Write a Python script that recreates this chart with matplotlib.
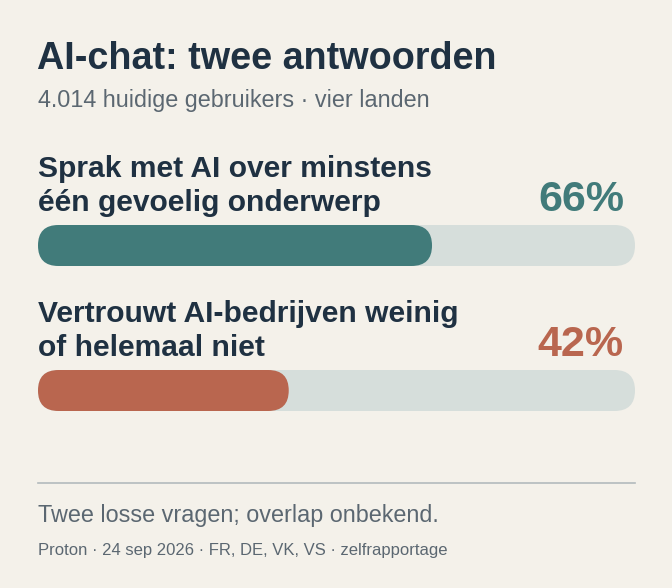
import matplotlib
matplotlib.use("Agg")
import matplotlib.pyplot as plt
from matplotlib.patches import FancyBboxPatch

plt.rcParams['font.family'] = ['Liberation Sans', 'DejaVu Sans']

title = "AI-chat: twee antwoorden"
subtitle = "4.014 huidige gebruikers · vier landen"
labels = ["Sprak met AI over minstens\néén gevoelig onderwerp",
          "Vertrouwt AI-bedrijven weinig\nof helemaal niet"]
values = [66, 42]
colors = ["#417b7a", "#b9664f"]
note = "Twee losse vragen; overlap onbekend."
source = "Proton · 24 sep 2026 · FR, DE, VK, VS · zelfrapportage"

W, H = 672, 588
bg = "#f4f1ea"
ink = "#1f3142"
grey = "#5b6771"
track = "#d6dedb"

fig = plt.figure(figsize=(W / 100, H / 100), dpi=100, facecolor=bg)


def px(x, y):
    # pixel position (from top-left) to figure fraction
    return x / W, 1 - y / H


left, right = 38, 635
bar_h = 41
fig.text(*px(37, 69), title, fontsize=27.2, fontweight='bold', color=ink, va='baseline')
fig.text(*px(38, 107), subtitle, fontsize=16.8, color=grey, va='baseline')

step = 145
for i, (lab, val, col) in enumerate(zip(labels, values, colors)):
    off = i * step
    for j, line in enumerate(lab.split("\n")):
        fig.text(*px(38, 177 + off + j * 34), line, fontsize=21.6, fontweight='bold',
                 color=ink, va='baseline')
    fig.text(*px(624, 211 + off), f"{val}%", fontsize=31, fontweight='bold',
             color=col, ha='right', va='baseline')

    # one axes per bar, x in percent
    bx0, by0 = px(left, 266 + off)
    ax = fig.add_axes([bx0, by0, (right - left) / W, bar_h / H])
    ax.set_xlim(0, 100)
    ax.set_ylim(0, 1)
    ax.axis('off')
    ppu = (right - left) / 100          # pixels per percent
    asp = ppu / bar_h
    r = (bar_h / 2) / ppu
    ax.add_patch(FancyBboxPatch((0, 0), 100, 1, boxstyle=f"round,pad=0,rounding_size={r}",
                                mutation_aspect=asp, fc=track, ec='none', clip_on=False))
    ax.add_patch(FancyBboxPatch((0, 0), val, 1, boxstyle=f"round,pad=0,rounding_size={r}",
                                mutation_aspect=asp, fc=col, ec='none', clip_on=False))

fig.add_artist(plt.Line2D([left / W, right / W], [1 - 483 / H] * 2, color="#b3babd", lw=1.2))
fig.text(*px(38, 522), note, fontsize=16.8, color=grey, va='baseline')
fig.text(*px(38, 555), source, fontsize=12.0, color=grey, va='baseline')

fig.savefig("out.png", dpi=100, facecolor=bg)
